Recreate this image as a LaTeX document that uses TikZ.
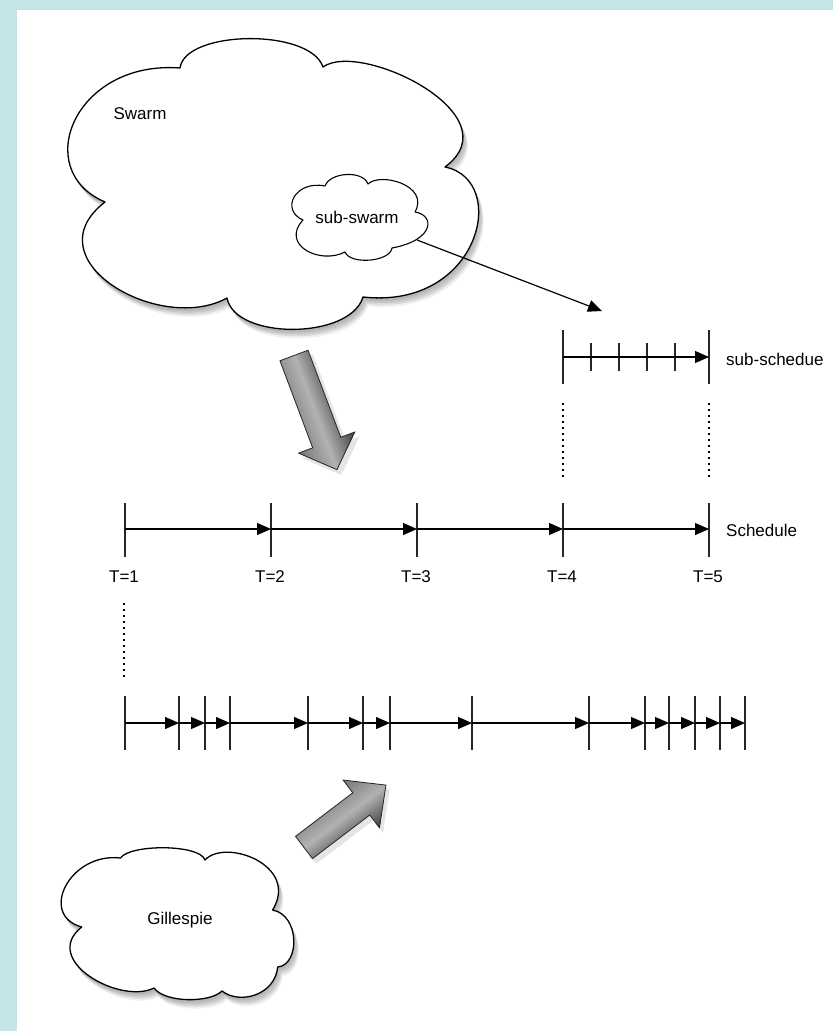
\documentclass[tikz,border=0pt]{standalone}
\usepackage{fontspec}
\setmainfont{Liberation Sans}
\usetikzlibrary{arrows.meta}
\definecolor{bgblue}{RGB}{196,228,232}
\definecolor{shdark}{RGB}{62,62,62}
\definecolor{shmid}{RGB}{118,118,118}
\definecolor{shlight}{RGB}{178,178,178}

\newcommand\swarmshape{(105,202) .. controls (30,170) and (75,60) .. (180,68)
 .. controls (185,30) and (310,28) .. (323,67)
 .. controls (360,40) and (515,115) .. (445,167)
 .. controls (510,180) and (480,310) .. (363,297)
 .. controls (350,340) and (235,340) .. (227,298)
 .. controls (160,335) and (30,260) .. (105,202) -- cycle}
\newcommand\subswarmshape{(303,220) .. controls (280,210) and (295,180) .. (325,186)
 .. controls (330,172) and (363,170) .. (368,184)
 .. controls (380,172) and (430,185) .. (415,212)
 .. controls (435,215) and (435,240) .. (392,248)
 .. controls (390,262) and (350,265) .. (345,252)
 .. controls (320,265) and (280,245) .. (303,220) -- cycle}
\newcommand\gillshape{(81.7,927) .. controls (38,915) and (70,852) .. (120.5,858)
 .. controls (130,844) and (200,844) .. (205,860)
 .. controls (225,838) and (300,865) .. (272.6,910)
 .. controls (300,915) and (300,965) .. (277.7,967)
 .. controls (275,995) and (240,1005) .. (222,991)
 .. controls (210,1003) and (165,1003) .. (154,988)
 .. controls (120,1005) and (40,960) .. (81.7,927) -- cycle}
\newcommand\cloudshadow[1]{%
  \fill[black,opacity=0.07,shift={(1,3)}] #1;
  \fill[black,opacity=0.09,shift={(3,5)}] #1;
  \fill[black,opacity=0.09,shift={(4,7)}] #1;
  \fill[black,opacity=0.06,shift={(5,9)}] #1;
}

\begin{document}
\begin{tikzpicture}[x=1pt,y=-1pt,
  cloudline/.style={draw=black,line width=1.3pt,fill=white,line join=round},
  lbl/.style={font=\fontsize{17}{20}\selectfont,inner sep=0pt},
  tickline/.style={line width=1.5pt,black!85},
  minortick/.style={line width=1.1pt,black!85},
  conn/.style={line width=1.2pt,-{Triangle[length=14pt,width=12pt]}},
  dotline/.style={line width=1.6pt,dash pattern=on 1.6pt off 4.4pt},
  arrowoutline/.style={draw=black!85,line width=0.8pt,line join=miter}
]
\useasboundingbox (0,0) rectangle (833,1031);
\fill[bgblue] (0,0) rectangle (833,1031);
\fill[white] (17,10) rectangle (833,1031);

% ---- Swarm cloud
\cloudshadow{\swarmshape}
\path[cloudline] \swarmshape;
\node[lbl] (swarm) at (140,114) {Swarm};
\path[cloudline,line width=1.1pt] \subswarmshape;
\node[lbl] (subswarm) at (357,217) {sub-swarm};

% ---- Gillespie cloud
\cloudshadow{\gillshape}
\path[cloudline] \gillshape;
\node[lbl] (gill) at (180,920) {Gillespie};

% ---- big shaded arrows
\begin{scope}[transform canvas={shift={(298,360)}, rotate=-69.4}]
  \fill[black,opacity=0.10] (0,-16) -- (93,-16) -- (93,-31) -- (123,0) -- (93,31) -- (93,16) -- (0,16) -- cycle;
\end{scope}
\begin{scope}[transform canvas={shift={(294,355.5)}, rotate=-69.4}]
  \path[arrowoutline,top color=shdark,bottom color=shmid,middle color=shlight]
    (0,-15) -- (93,-15) -- (93,-30) -- (122,0) -- (93,30) -- (93,15) -- (0,15) -- cycle;
\end{scope}
\begin{scope}[transform canvas={shift={(307,852)}, rotate=37.3}]
  \fill[black,opacity=0.10] (0,-15) -- (72,-15) -- (72,-31) -- (104,0) -- (72,31) -- (72,15) -- (0,15) -- cycle;
\end{scope}
\begin{scope}[transform canvas={shift={(304,847.5)}, rotate=37.3}]
  \path[arrowoutline,top color=shmid,bottom color=shdark,middle color=shlight]
    (0,-14) -- (72,-14) -- (72,-30) -- (103,0) -- (72,30) -- (72,14) -- (0,14) -- cycle;
\end{scope}

% ---- sub-swarm to sub-schedule connector
\coordinate (ssout) at (417,240);
\coordinate (ssin) at (602,311);
\draw[conn] (ssout) -- (ssin);

% ---- sub-schedule
\coordinate (u0) at (563,357);
\coordinate (u5) at (709,357);
\draw[tickline] (563,330) -- (563,384);
\draw[tickline] (709,330) -- (709,384);
\foreach \x in {591,619,647,675} \draw[minortick] (\x,343) -- (\x,371);
\draw[conn] (u0) -- (u5);
\node[lbl,anchor=west] (subsched) at (726,359) {sub-schedue};

% dotted links
\draw[dotline] (563,403) -- (563,480);
\draw[dotline] (709,403) -- (709,480);

% ---- Schedule
\foreach \i/\x in {1/125,2/271,3/417,4/563,5/709}{
  \coordinate (s\i) at (\x,529);
  \draw[tickline] (\x,503) -- (\x,557);
  \node[lbl] (t\i) at (\x-1,577) {T=\i};
}
\draw[conn] (s1) -- (s2);
\draw[conn] (s2) -- (s3);
\draw[conn] (s3) -- (s4);
\draw[conn] (s4) -- (s5);
\node[lbl,anchor=west] (sched) at (726,530) {Schedule};

\draw[dotline] (124,603) -- (124,680);

% ---- Gillespie timeline
\foreach \i/\x in {1/125,2/179,3/205,4/230,5/308,6/363,7/390,8/472,9/589,10/645,11/669,12/695,13/720,14/745}{
  \coordinate (g\i) at (\x,723);
  \draw[tickline] (\x,696) -- (\x,750);
}
\foreach \a/\b in {1/2,2/3,3/4,4/5,5/6,6/7,7/8,8/9,9/10,10/11,11/12,12/13,13/14}
  \draw[conn] (g\a) -- (g\b);
\end{tikzpicture}
\end{document}
